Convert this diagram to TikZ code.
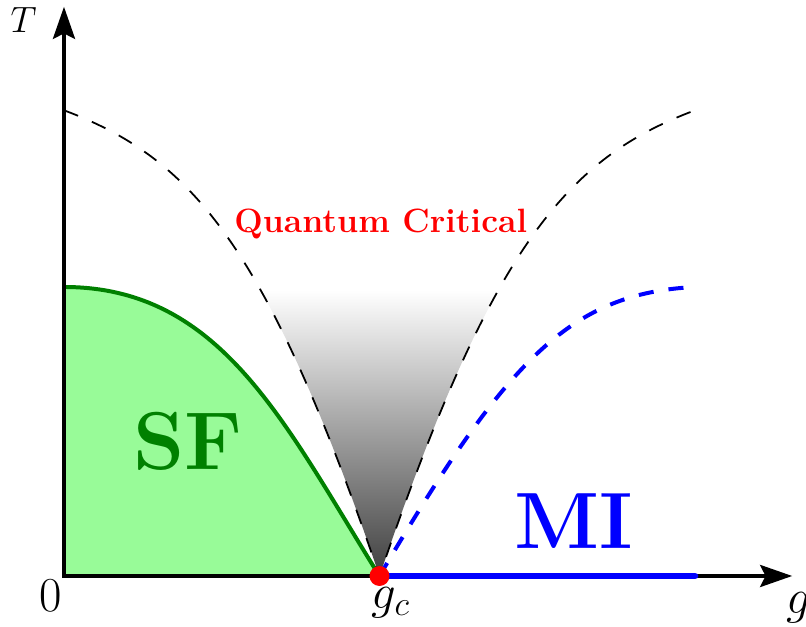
\RequirePackage{fix-cm}
\documentclass[tikz,border=0pt]{standalone}
\usetikzlibrary{arrows.meta}
\definecolor{palegreen}{RGB}{152,251,152}
\definecolor{sfgreen}{RGB}{0,128,0}
\begin{document}
\begin{tikzpicture}[x=1cm,y=1cm,
  axis/.style={line width=1.4pt, line join=miter,
    {Stealth[length=14.5pt,width=10pt,inset=2.5pt]}-{Stealth[length=14.5pt,width=10pt,inset=2.5pt]}},
  crossover/.style={black, line width=0.8pt, dash pattern=on 6.8pt off 6.8pt},
  mottline/.style={blue, line width=1.8pt, dash pattern=on 6.8pt off 6.8pt},
  sfline/.style={sfgreen, line width=1.8pt},
  milline/.style={blue, line width=3pt, line cap=round},
  lbl/.style={inner sep=0pt, anchor=base}]
\useasboundingbox (-1.014,-0.808) rectangle (11.759,9.128);
\clip (-1.014,-0.808) rectangle (11.759,9.128);

\coordinate (O) at (0,0);
\coordinate (gc) at (5,0);
\coordinate (Ttop) at (0,7.38);
\coordinate (Tright) at (10,7.38);
\coordinate (SFtop) at (0,4.58);
\coordinate (MIend) at (10,0);
\coordinate (Bend) at (10,4.58);
\coordinate (ytip) at (0,9.02);
\coordinate (xtip) at (11.54,0);

% superfluid region
\fill[palegreen] (O) -- (SFtop) .. controls (2.5,4.58) and (3.5,2.4) .. (gc) -- cycle;
\draw[sfline] (SFtop) .. controls (2.5,4.58) and (3.5,2.4) .. (gc);

% quantum critical shading
\begin{scope}
  \clip (gc) .. controls (3.2,5.29) and (2,6.63) .. (Ttop) -- (Tright)
        .. controls (8,6.63) and (6.8,5.29) .. (gc) -- cycle;
  \shade[top color=white, bottom color=black!75] (0,0) rectangle (10,4.53);
\end{scope}

% crossover lines
\draw[crossover] (Ttop) .. controls (2,6.63) and (3.2,5.29) .. (gc)
                 .. controls (6.8,5.29) and (8,6.63) .. (Tright);
\draw[mottline] (gc) .. controls (7,3.4) and (8,4.48) .. (Bend);

% axes
\draw[axis] (ytip) -- (O) -- (xtip);
\draw[milline] (gc) -- (MIend);
\node[circle, fill=red, inner sep=0pt, minimum size=9pt] (qcp) at (gc) {};

% labels
\node[lbl] (Tlab) at (-0.64,8.61) {\fontsize{16.5}{20}\selectfont $T$};
\node[lbl] (zero) at (-0.21,-0.555) {\fontsize{22}{26}\selectfont $0$};
\node[lbl] (gclab) at (5.18,-0.51) {\fontsize{22}{26}\selectfont $g_c$};
\node[inner sep=0pt, anchor=base west] (glab) at (11.44,-0.60) {\fontsize{22}{26}\selectfont $g$};
\node[lbl, text=red] (qc) at (5.02,5.44) {\fontsize{15.2}{18}\selectfont\bfseries Quantum Critical};
\node[lbl, text=sfgreen] (sf) at (1.97,1.68) {\fontsize{37}{44}\selectfont\bfseries SF};
\node[lbl, text=blue] (mi) at (8.08,0.44) {\fontsize{36}{43}\selectfont\bfseries MI};
\end{tikzpicture}
\end{document}
